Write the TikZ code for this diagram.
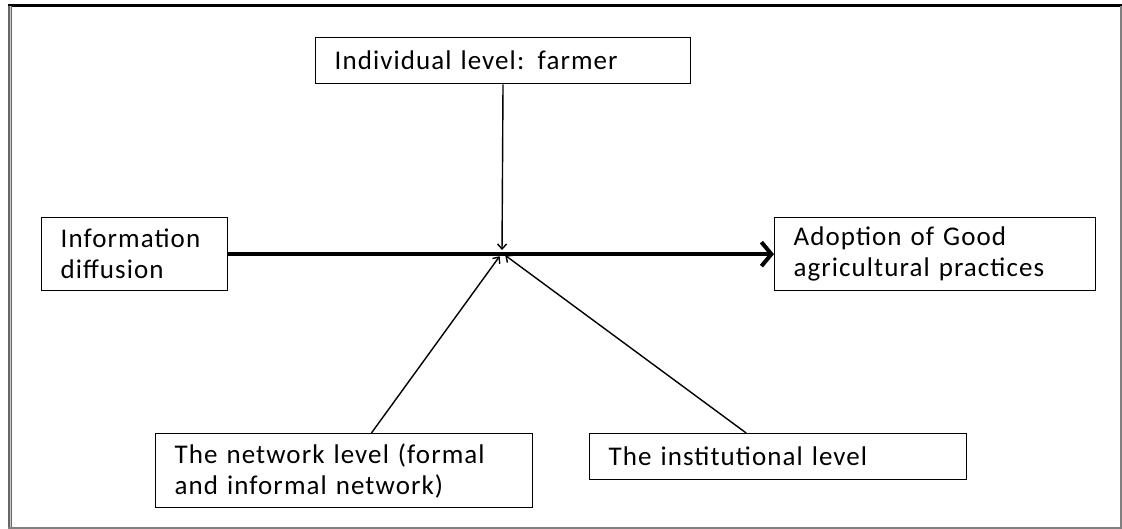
\documentclass[tikz,border=0pt]{standalone}
\usepackage{fontspec}
\setmainfont{Carlito}
\usetikzlibrary{arrows.meta}
\newcommand{\fsz}{27}

\begin{document}
\begin{tikzpicture}[x=1pt,y=-1pt,
    rect/.style={draw, rectangle, anchor=north west, line width=1.3pt, align=left, inner xsep=19pt, inner ysep=0pt,
        font=\fontsize{\fsz}{31}\selectfont\addfontfeatures{LetterSpace=4}},
    link/.style={line width=1.4pt, -{Straight Barb[length=5pt,width=9pt]}}]
    \useasboundingbox (0,0) rectangle (1122,529);

    % frame
    \draw[line width=3pt] (8,6) -- (1122,6);
    \draw[gray!80!black, line width=4pt] (10,6) -- (10,529);
    \draw[gray!40, line width=1pt] (10,6) -- (10,529);
    \draw[gray, line width=1.5pt] (1121,6) -- (1121,529);
    \draw[gray, line width=1.5pt] (8,528) -- (1122,528);

    % Top
    \node[rect, text width=337pt, minimum height=46pt] (indiv) at (315,37) {Individual level: farmer};

    % Middle row
    \node[rect, text width=148pt, minimum height=73pt] (info) at (41,217) {Information\\diffusion};
    \node[rect, text width=283pt, minimum height=73pt] (adopt) at (774,217) {Adoption of Good\\agricultural practices};
    \coordinate (hub) at (502,253);

    % Bottom row
    \node[rect, text width=339pt, minimum height=74pt] (net) at (155,433) {The network level (formal\\and informal network)};
    \node[rect, text width=339pt, minimum height=46pt] (inst) at (589,433) {The institutional level};

    \draw[line width=4pt, -{Straight Barb[length=10pt,width=24pt]}] (info) -- (adopt);
    \draw[link, shorten >=3pt] (indiv) -- (hub);
    \draw[link, shorten >=4pt] (net) -- (hub);
    \draw[link, shorten >=4pt] (inst) -- (hub);

\end{tikzpicture}
\end{document}
